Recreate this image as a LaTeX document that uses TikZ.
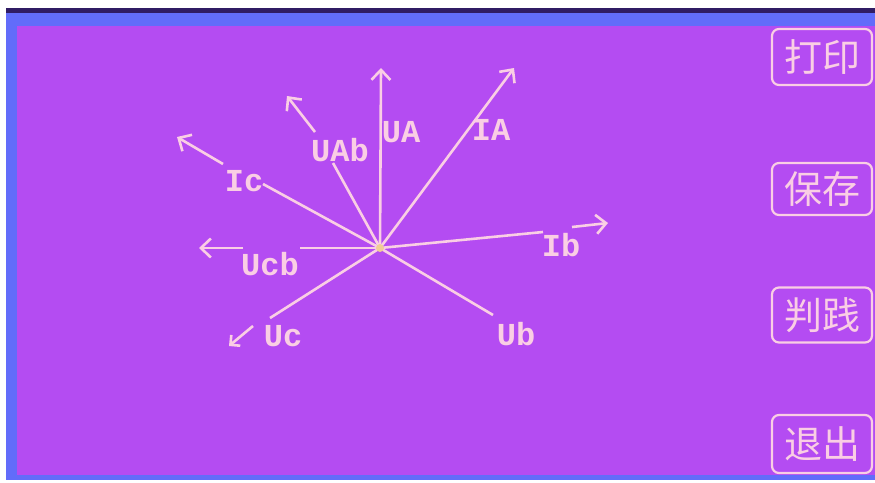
\documentclass[tikz,border=0pt]{standalone}
\usepackage{fontspec}
\setmonofont{Liberation Mono}
\newfontfamily\cjk{Noto Sans CJK SC}
\usetikzlibrary{arrows.meta}
\definecolor{screen}{RGB}{180,76,242}
\definecolor{bezel}{RGB}{98,108,250}
\definecolor{rim}{RGB}{48,28,100}
\definecolor{ink}{RGB}{250,206,228}
\definecolor{hub}{RGB}{240,205,150}
\tikzset{
  vec/.style={draw=ink, line width=2.6pt},
  tipped/.style={-{Straight Barb[length=10pt,width=19pt]}},
  lbl/.style={text=ink, font=\ttfamily\bfseries\fontsize{32}{32}\selectfont, inner sep=0pt},
  btn/.style={draw=ink, line width=2.2pt, rounded corners=7pt, minimum width=100pt,
              text=ink, font=\cjk\fontsize{38}{38}\selectfont, inner sep=0pt}
}
\begin{document}
\begin{tikzpicture}[x=1pt,y=-1pt]
\useasboundingbox (0,0) rectangle (875,482);
% display frame
\fill[white] (0,0) rectangle (875,482);
\fill[bezel] (6,8) rectangle (875,480);
\fill[rim] (6,8) rectangle (875,13);
\fill[screen] (17,26) rectangle (875,475);

% phasor origin
\coordinate (O) at (380,248);

% labels
\node[lbl] (lUA)  at (401,132) {UA};
\node[lbl] (lIA)  at (491,130) {IA};
\node[lbl] (lUAb) at (340,150) {UAb};
\node[lbl] (lIc)  at (244,181) {Ic};
\node[lbl] (lUcb) at (270,264) {Ucb};
\node[lbl] (lUc)  at (283,336) {Uc};
\node[lbl] (lUb)  at (516,334) {Ub};
\node[lbl] (lIb)  at (561,245) {Ib};

% arrow tips and break points
\coordinate (tUA)  at (381,68);
\coordinate (tIA)  at (514,68);
\coordinate (aUAb) at (333,163);
\coordinate (bUAb) at (315,132);
\coordinate (tUAb) at (287,96);
\coordinate (aIc)  at (263,184);
\coordinate (bIc)  at (223,164);
\coordinate (tIc)  at (177,137);
\coordinate (aUcb) at (300,248);
\coordinate (bUcb) at (243,248);
\coordinate (tUcb) at (199,248);
\coordinate (aUc)  at (270,318);
\coordinate (bUc)  at (253,326);
\coordinate (tUc)  at (229,346);
\coordinate (aUb)  at (493,315);
\coordinate (aIb)  at (543,232);
\coordinate (bIb)  at (572,227);
\coordinate (tIb)  at (608,223);

% phasors
\draw[vec,tipped] (O) -- (tUA);
\draw[vec,tipped] (O) -- (tIA);
\draw[vec] (O) -- (aUAb);
\draw[vec,tipped] (bUAb) -- (tUAb);
\draw[vec] (O) -- (aIc);
\draw[vec,tipped] (bIc) -- (tIc);
\draw[vec] (O) -- (aUcb);
\draw[vec,tipped] (bUcb) -- (tUcb);
\draw[vec] (O) -- (aUc);
\draw[vec,-{Straight Barb[length=7pt,width=14pt]}] (bUc) -- (tUc);
\draw[vec] (O) -- (aUb);
\draw[vec] (O) -- (aIb);
\draw[vec,tipped] (bIb) -- (tIb);
\fill[hub] (O) circle (4pt);

% soft keys
\node[btn, minimum height=56pt] (kPrint) at (822,57)  {打印};
\node[btn, minimum height=52pt] (kSave)  at (822,189) {保存};
\node[btn, minimum height=55pt] (kJudge) at (822,315) {判践};
\node[btn, minimum height=58pt] (kExit)  at (822,444) {退出};
\end{tikzpicture}
\end{document}
